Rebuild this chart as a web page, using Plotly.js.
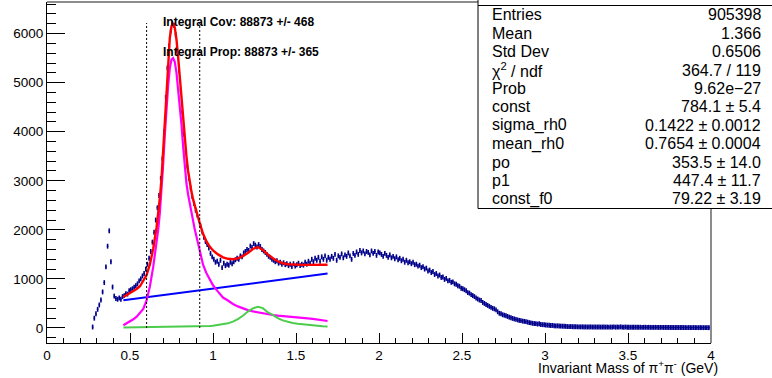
<!DOCTYPE html>
<html>
<head>
<meta charset="utf-8">
<script src="https://cdn.plot.ly/plotly-3.0.1.min.js"></script>
<style>html,body{margin:0;padding:0;background:#fff;}#plot{width:772px;height:378px;}</style>
</head>
<body>
<div id="plot"></div>
<script>
// ---------------- data (histogram bin contents, bin width 0.01 GeV) ----------------
const binWidth = 0.01;
const startA = 0.275;
const countsA = [20,200,290,380,470,570,735,925,1245,1667,1980,1350,835,650,600,585,612,585];
const startB = 0.455;
const countsB = [640,660,700,690,760,780,800,830,860,900,960,1000,1060,1110,1200];
const startC = 0.605;
const countsC = [1300,1420,1560,1750,1950,2200,2450,2700,3050,3450,4000,4700,5300,5750,6050,6200,
                 6170,5980,5650,5250,4850,4400,3950,3600,3300,3050,2850,2680,2540,2400,2300,2200];
const startD = 0.925;
const countsD = [2080,1960,1850,1760,1700,1630,1520,1450,1400,1340,1360,1300,1380,1230,1320,1270,1300,1280,
                 1340,1310,1350,1390,1420,1400,1470,1450,1530,1560,1600,1580,1670,1640,1720,1690,1650,1700,
                 1660,1600,1570,1540,1500,1460,1440,1400,1380,1350,1370,1320,1340,1300,1330,1290,1310,1270,
                 1300,1250,1310,1260,1290,1320,1270,1300,1280,1340,1300,1360,1320,1400,1350,1420,1380,1440,
                 1360,1450,1400,1470,1380,1440];
const startE = 1.705;
const countsE = [1400,1460,1420,1500,1380,1470,1440,1510,1430,1490,1460,1530,1470,1400,1520,1480,1550,1500,
                 1580,1530,1570,1510,1560,1540,1490,1570,1520,1560,1480,1550,1530,1500,1460,1520,1480,1440,
                 1490,1430,1460,1410,1450,1390,1420,1370,1400,1340,1380,1330,1350,1310,1340,1290,1300,1260,
                 1280,1230,1250,1200,1220,1160,1180,1130,1150,1090,1110,1060,1080,1030,1040,990,1010,960,
                 970,930,940,900,890,860,850,810];
const startF = 2.505;
const countsF = [800,780,760,720,710,680,660,640,610,590,570,560,520,500,480,460,440,420,400,390,
                 370,330,300,290,270,260,250,235,220,210,195,185,175,165,155,150,140,135,130,120,
                 110,105,95,90,88,80,85,72,68,65,60,58,55,50,52,45,42,44,40,38,
                 36,35,33,30,28,30,27,25,26,24,
                 23,22,24,21,22,20,21,22,19,20,
                 20,19,21,18,19,20,18,19,17,18,
                 18,22,16,20,17,23,18,15,20,16,
                 16,15,16,14,15,16,14,15,13,14,
                 14,13,14,12,13,12,13,12,11,12,
                 12,11,12,10,11,10,11,10,9,10,
                 10,9,10,9,9,8,9,8,8,9,
                 8,8,7,8,7,7,8,7,6,7];

// ---------------- fit curves ----------------
const fitX = [0.46,0.48,0.50,0.52,0.54,0.56,0.58,0.60,0.62,0.64,0.66,
              0.67,0.68,0.69,0.70,0.71,0.72,0.73,0.74,0.75,0.76,0.77,0.78,0.79,0.80,0.81,0.82,0.83,0.84,0.85,0.86,0.87,0.88,0.89,0.90,
              0.92,0.94,0.96,0.98,1.00,
              1.03,1.06,1.09,1.12,1.15,1.18,1.21,1.24,1.27,1.30,1.33,1.36,1.39,1.42,1.45,1.48,1.51,1.54,1.57,1.60,1.63,1.66,1.69];
const fitTotal = [633,670,712,755,795,850,960,1080,1300,1620,2050,
                  2330,2650,3050,3650,4300,4950,5500,5920,6150,6210,6120,5880,5520,5100,4650,4230,3850,3500,3200,2950,2780,2620,2490,2370,
                  2140,1920,1770,1660,1580,
                  1500,1440,1410,1400,1420,1465,1530,1610,1650,1590,1500,1420,1360,1320,1300,1292,1288,1286,1286,1286,1287,1288,1290];
const fitRho = [55,90,130,177,230,300,390,560,850,1250,1700,
                2000,2350,2800,3350,3950,4500,4950,5300,5470,5500,5420,5200,4880,4550,4150,3700,3250,2950,2720,2520,2340,2170,2010,1870,
                1560,1290,1120,980,870,
                740,620,560,490,440,400,365,340,318,295,280,265,252,245,235,225,215,205,195,185,175,160,143];
const fitF0 = [8,9,10,10,11,12,12,13,14,14,15,
               15,16,16,16,17,17,17,18,18,18,19,19,19,20,20,20,21,21,22,22,23,24,25,26,
               27,30,34,40,47,
               58,72,95,130,180,250,335,400,432,405,320,265,200,155,125,100,85,72,60,50,42,35,28];
const bkgX = [0.46, 1.69];
const bkgY = [565, 1110];

const integralRange = [0.6, 0.92];
const integralTop = 6216;
const statLabels = ["Entries","Mean","Std Dev","\u03c7<sup>2</sup> / ndf","Prob","const","sigma_rh0","mean_rh0","po","p1","const_f0"];
const statValues = ["905398","1.366","0.6506","364.7 / 119","9.62e\u221227","784.1 \u00b1 5.4","0.1422 \u00b1 0.0012","0.7654 \u00b1 0.0004","353.5 \u00b1 14.0","447.4 \u00b1 11.7","79.22 \u00b1 3.19"];
const integralTexts = ["Integral Cov: 88873 +/- 468","Integral Prop: 88873 +/- 365"];
const xTitle = 'Invariant Mass of \u03c0<sup>+</sup>\u03c0<sup>-</sup> (GeV)';

// ---------------- build histogram points ----------------
const sections = [[startA,countsA],[startB,countsB],[startC,countsC],[startD,countsD],[startE,countsE],[startF,countsF]];
const hx = [], hy = [];
sections.forEach(([s, arr]) => arr.forEach((v, i) => { hx.push(+(s + i*binWidth).toFixed(4)); hy.push(v); }));

const navy = '#00008b';
const traces = [
  {x: hx, y: hy, type: 'scatter', mode: 'markers', hoverinfo: 'skip',
   marker: {symbol: 'line-ns-open', size: 3.5, color: navy, line: {color: navy, width: 1.6}},
   error_x: {type: 'constant', value: binWidth/2, width: 0, thickness: 1, color: navy}},
  {x: bkgX, y: bkgY, type: 'scatter', mode: 'lines', line: {color: '#0000ff', width: 2}},
  {x: fitX, y: fitRho, type: 'scatter', mode: 'lines', line: {color: '#ff00ff', width: 2.2}},
  {x: fitX, y: fitF0, type: 'scatter', mode: 'lines', line: {color: '#4ccc4c', width: 2}},
  {x: fitX, y: fitTotal, type: 'scatter', mode: 'lines', line: {color: '#ff0000', width: 2.4}}
];

// plot area geometry in pixels
const L = 47, R = 61, T = 2, B = 35, W = 772, H = 378;
const pw = W - L - R, ph = H - T - B;
const px = v => (v - L) / pw;          // pixel x -> paper x
const py = v => (H - B - v) / ph;      // pixel y -> paper y
const FONT = 'Liberation Sans, Arial, sans-serif';

const annotations = [];
statLabels.forEach((t, i) => {
  const yy = 15 + i * 18.4;
  annotations.push({xref:'paper', yref:'paper', x: px(491), y: py(yy), xanchor:'left', yanchor:'middle',
    text: t, showarrow:false, font:{family:FONT, size:16, color:'#000'}, borderpad:0});
  annotations.push({xref:'paper', yref:'paper', x: px(762), y: py(yy), xanchor:'right', yanchor:'middle',
    text: statValues[i], showarrow:false, font:{family:FONT, size:16, color:'#000'}, borderpad:0});
});
integralTexts.forEach((t, i) => {
  annotations.push({xref:'paper', yref:'paper', x: px(162), y: py(22 + i*30), xanchor:'left', yanchor:'middle',
    text: '<b>' + t + '</b>', showarrow:false, font:{family:FONT, size:12, color:'#000'}, borderpad:0});
});
annotations.push({xref:'paper', yref:'paper', x: px(537), y: py(367), xanchor:'left', yanchor:'middle',
  text: xTitle, showarrow:false, font:{family:FONT, size:14, color:'#000'}, borderpad:0});

const shapes = [];
integralRange.forEach(xv => shapes.push({type:'line', xref:'x', yref:'y', x0: xv, x1: xv, y0: 0, y1: integralTop,
  line:{color:'#000', width:1, dash:'2px,2px'}}));
// frame top/right (gray)
shapes.push({type:'line', xref:'paper', yref:'paper', x0:0, x1:1, y0:1, y1:1, line:{color:'#8c8c8c', width:2}});
shapes.push({type:'line', xref:'paper', yref:'paper', x0:1, x1:1, y0:0, y1:1, line:{color:'#8c8c8c', width:2}});
// stats box
shapes.push({type:'rect', xref:'paper', yref:'paper', x0: px(478), x1: px(790), y0: py(208.5), y1: py(-10),
  fillcolor:'#fff', line:{color:'#000', width:1}, layer:'above'});
shapes.push({type:'line', xref:'paper', yref:'paper', x0: px(478), x1: px(790), y0: py(5.5), y1: py(5.5),
  line:{color:'#000', width:1}});

const layout = {
  width: W, height: H, margin: {l: L, r: R, t: T, b: B, pad: 0},
  paper_bgcolor: '#fff', plot_bgcolor: '#fff', showlegend: false,
  font: {family: FONT, color: '#000'},
  xaxis: {range: [0, 4], dtick: 0.5, tick0: 0, ticks: 'inside', ticklen: 10, tickwidth: 1, tickcolor: '#000',
    showline: true, linecolor: '#000', linewidth: 1, showgrid: false, zeroline: false,
    tickfont: {size: 13.5, color: '#000'},
    minor: {dtick: 0.1, ticks: 'inside', ticklen: 5, tickcolor: '#000', showgrid: false}},
  yaxis: {range: [-306, 6644], dtick: 1000, tick0: 0, ticks: 'inside', ticklen: 18, tickwidth: 1, tickcolor: '#000',
    showline: true, linecolor: '#000', linewidth: 1, showgrid: false, zeroline: false,
    tickfont: {size: 13.5, color: '#000'},
    minor: {dtick: 200, ticks: 'inside', ticklen: 9, tickcolor: '#000', showgrid: false}},
  annotations: annotations,
  shapes: shapes
};

Plotly.newPlot('plot', traces, layout, {staticPlot: true, displayModeBar: false});
</script>
</body>
</html>
